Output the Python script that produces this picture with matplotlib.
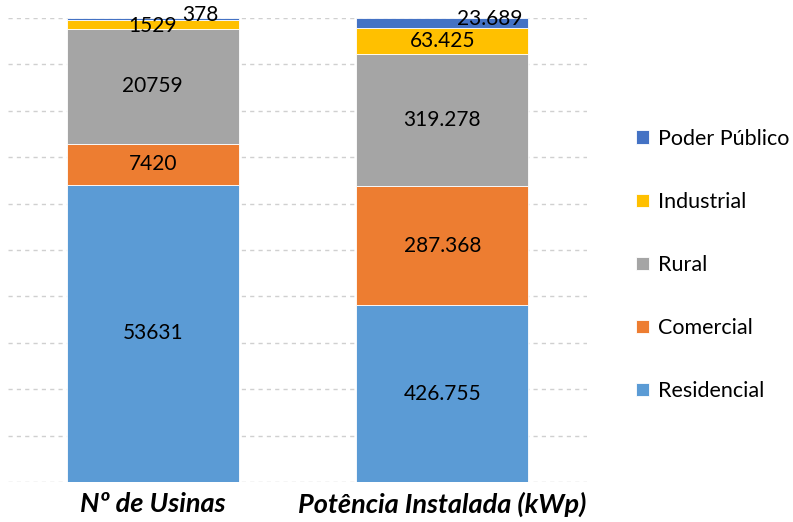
import matplotlib
matplotlib.use("Agg")
import matplotlib.pyplot as plt
import numpy as np

plt.rcParams['font.family'] = ['Lato', 'DejaVu Sans']

groups = ["Nº de Usinas", "Potência Instalada (kWp)"]
categories = ["Residencial", "Comercial", "Rural", "Industrial", "Poder Público"]
usinas = [53631, 7420, 20759, 1529, 378]
potencia = [426.755, 287.368, 319.278, 63.425, 23.689]
usinas_labels = ["53631", "7420", "20759", "1529", "378"]
potencia_labels = ["426.755", "287.368", "319.278", "63.425", "23.689"]
colors = ["#5B9BD5", "#ED7D31", "#A5A5A5", "#FFC000", "#4472C4"]

fig = plt.figure(figsize=(7.93, 5.22), dpi=100)
ax = fig.add_axes([8/793, 40/522, 579/793, 464/522])

series = [usinas, potencia]
labels = [usinas_labels, potencia_labels]
width = 0.595
handles = []
ncat = len(categories)
for i, cat in enumerate(categories):
    vals = []
    bottoms = []
    for s in series:
        tot = sum(s)
        vals.append(s[i] / tot)
        bottoms.append(sum(s[:i]) / tot)
    h = ax.bar(np.arange(2), vals, width, bottom=bottoms, color=colors[i],
               edgecolor="white", linewidth=0.6, label=cat, zorder=2)
    handles.append(h)
    for j in range(2):
        cy = bottoms[j] + vals[j] / 2
        dx, dy = 0, 0
        if i == ncat - 1:
            dx, dy = 0.165, 0.009
        elif i == ncat - 2 and j == 0:
            dy = -0.003
        ax.text(j + dx, cy + dy, labels[j][i], ha="center", va="center",
                fontsize=15, color="black", zorder=3)

ax.set_xlim(-0.5, 1.5)
ax.set_ylim(0, 1)
for y in np.linspace(0, 1, 11):
    ax.axhline(y, color="#D0D0D0", linestyle=(0, (3, 3)), linewidth=1, zorder=1)
ax.set_yticks([])
ax.set_xticks([0, 1])
ax.set_xticklabels(groups, fontsize=19.5, fontweight="bold", fontstyle="italic")
ax.tick_params(axis="x", length=0, pad=7)
for sp in ax.spines.values():
    sp.set_visible(False)

leg = fig.legend(handles[::-1], categories[::-1], loc="center left",
                 bbox_to_anchor=(617/793, 257/522), frameon=False, fontsize=15.5,
                 handlelength=0.6, handleheight=0.6, handletextpad=0.4,
                 labelspacing=2.0)

fig.savefig("out.png", dpi=100)
